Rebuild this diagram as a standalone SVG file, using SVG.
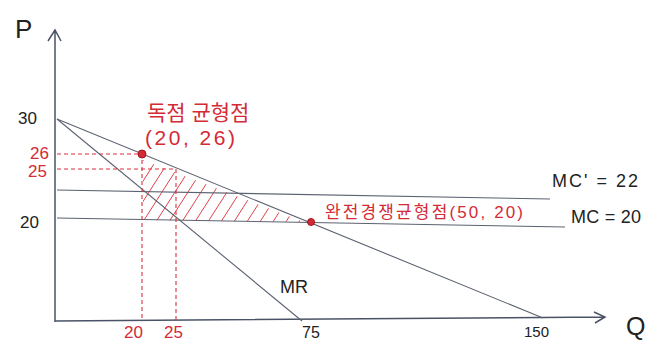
<svg xmlns="http://www.w3.org/2000/svg" width="668" height="344" viewBox="0 0 668 344">
<style>
.ax{stroke:#4a5366;stroke-width:1.5;fill:none}
.ln{stroke:#5b6270;stroke-width:1.1;fill:none}
.dash{stroke:#d8303c;stroke-width:1.1;stroke-dasharray:4 3;fill:none}
.hat{stroke:#e0404a;stroke-width:1;fill:none}
.t{font-family:"Liberation Sans","Noto Sans CJK KR",sans-serif;fill:#222}
.r{font-family:"Liberation Sans","Noto Sans CJK KR",sans-serif;fill:#d42a36}
.dot{fill:#d42a36;stroke:#a01820;stroke-width:1}
</style>
<defs>
<clipPath id="hc"><polygon points="143,160 304,222 143,220"/></clipPath>
</defs>
<rect width="668" height="344" fill="#fff"/>
<g id="axes">
<path class="ax" d="M55,322 L55,30 M48,41 L55,30 L61,41"/>
<path class="ax" d="M55,321 L605,317 M594,312 L605,317 L595,323"/>
<text class="t" x="15" y="38" font-size="26">P</text>
<text class="t" x="626" y="335" font-size="25">Q</text>
</g>
<g id="hatch" clip-path="url(#hc)">
<path class="hat" d="M100,228 L148,153 M113,228 L161,153 M126,228 L174,153 M139,228 L187,153 M152,228 L200,153 M165,228 L213,153 M178,228 L226,153 M191,228 L239,153 M204,228 L252,153 M217,228 L265,153 M230,228 L278,153 M243,228 L291,153 M256,228 L304,153 M269,228 L317,153 M282,228 L330,153 M295,228 L343,153"/>
</g>
<g id="connectors">
<path id="demand" class="ln" d="M57,119 L543,318"/>
<path id="mr" class="ln" d="M57,119 L302,321"/>
<path id="mcprime" class="ln" d="M57,190 L550,199"/>
<path id="mc" class="ln" d="M57,218 L565,227"/>
<path class="dash" d="M57,154 L142,154 L142,320"/>
<path class="dash" d="M57,169 L176,169 L176,320"/>
</g>
<g id="monopoly">
<circle class="dot" cx="142" cy="154" r="4"/>
<text class="r" x="147" y="120" font-size="21">독점 균형점</text>
<text class="r" x="145" y="145" font-size="21" textLength="90">(20, 26)</text>
</g>
<g id="competitive">
<circle class="dot" cx="311" cy="222" r="3.5"/>
<text class="r" x="325" y="218" font-size="17" textLength="198">완전경쟁균형점(50, 20)</text>
</g>
<g id="labels">
<text class="t" x="18" y="124" font-size="17">30</text>
<text class="t" x="20" y="228" font-size="17">20</text>
<text class="r" x="30" y="159" font-size="17">26</text>
<text class="r" x="28" y="177" font-size="17">25</text>
<text class="t" x="552" y="187" font-size="18" textLength="86">MC' = 22</text>
<text class="t" x="571" y="223" font-size="18" textLength="70">MC = 20</text>
<text class="t" x="280" y="293" font-size="18">MR</text>
<text class="r" x="124" y="338" font-size="17">20</text>
<text class="r" x="164" y="338" font-size="17">25</text>
<text class="t" x="302" y="338" font-size="16">75</text>
<text class="t" x="524" y="337" font-size="15">150</text>
</g>
</svg>
